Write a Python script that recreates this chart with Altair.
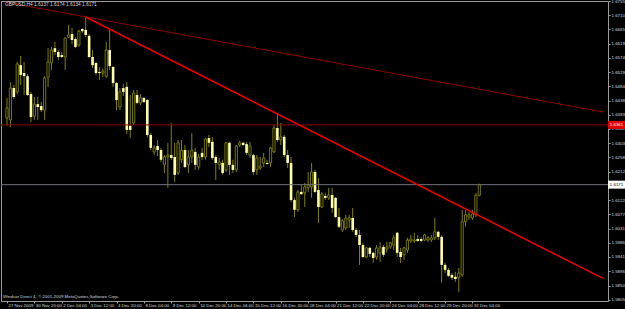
import altair as alt
import pandas as pd

# ---- data (GBPUSD H4) ----
opens = [1.6383, 1.6377, 1.6478, 1.6466, 1.6551, 1.6526, 1.6516, 1.6459, 1.6389, 1.6427,
         1.6421, 1.6408, 1.6513, 1.6558, 1.6605, 1.6593, 1.6583, 1.6577, 1.6640, 1.6650,
         1.6634, 1.6615, 1.6666, 1.6663, 1.6644, 1.6577, 1.6558, 1.6529, 1.6526, 1.6516,
         1.6599, 1.6545, 1.6494, 1.6418, 1.6478, 1.6482, 1.6358, 1.6367, 1.6456, 1.6431,
         1.6447, 1.6440, 1.6329, 1.6275, 1.6294, 1.6281, 1.6234, 1.6259, 1.6265, 1.6259,
         1.6208, 1.6250, 1.6281, 1.6234, 1.6259, 1.6275, 1.6227, 1.6272, 1.6259, 1.6319,
         1.6307, 1.6259, 1.6234, 1.6240, 1.6218, 1.6304, 1.6234, 1.6218, 1.6297, 1.6304,
         1.6300, 1.6265, 1.6265, 1.6218, 1.6224, 1.6240, 1.6240, 1.6240, 1.6275, 1.6351,
         1.6313, 1.6323, 1.6265, 1.6240, 1.6122, 1.6091, 1.6148, 1.6145, 1.6161, 1.6164,
         1.6211, 1.6154, 1.6100, 1.6135, 1.6129, 1.6138, 1.6129, 1.6068, 1.6027, 1.6033,
         1.6059, 1.6065, 1.6027, 1.6011, 1.5979, 1.5941, 1.5970, 1.5954, 1.5941, 1.5954,
         1.5973, 1.5967, 1.5973, 1.5979, 1.6018, 1.5957, 1.5948, 1.5963, 1.5992, 1.5992,
         1.5998, 1.5998, 1.5995, 1.5995, 1.5995, 1.6002, 1.6021, 1.6005, 1.5916, 1.5900,
         1.5884, 1.5878, 1.5875, 1.5884, 1.6053, 1.6068, 1.6065, 1.6075, 1.6137]
highs = [1.6447, 1.6497, 1.6488, 1.6561, 1.6580, 1.6561, 1.6523, 1.6466, 1.6450, 1.6450,
         1.6434, 1.6516, 1.6605, 1.6609, 1.6625, 1.6599, 1.6593, 1.6640, 1.6679, 1.6669,
         1.6640, 1.6663, 1.6669, 1.6704, 1.6650, 1.6599, 1.6561, 1.6545, 1.6539, 1.6625,
         1.6663, 1.6548, 1.6497, 1.6478, 1.6491, 1.6497, 1.6456, 1.6472, 1.6472, 1.6459,
         1.6450, 1.6443, 1.6335, 1.6297, 1.6313, 1.6288, 1.6265, 1.6304, 1.6367, 1.6304,
         1.6313, 1.6313, 1.6297, 1.6281, 1.6335, 1.6288, 1.6269, 1.6288, 1.6319, 1.6329,
         1.6323, 1.6265, 1.6256, 1.6250, 1.6307, 1.6307, 1.6250, 1.6297, 1.6310, 1.6307,
         1.6307, 1.6307, 1.6269, 1.6265, 1.6259, 1.6272, 1.6250, 1.6291, 1.6361, 1.6399,
         1.6367, 1.6329, 1.6281, 1.6259, 1.6129, 1.6154, 1.6170, 1.6176, 1.6211, 1.6240,
         1.6218, 1.6192, 1.6148, 1.6145, 1.6161, 1.6161, 1.6132, 1.6097, 1.6062, 1.6075,
         1.6075, 1.6097, 1.6033, 1.6027, 1.5986, 1.5973, 1.5973, 1.5957, 1.5979, 1.5989,
         1.5979, 1.5989, 1.5989, 1.6011, 1.6021, 1.5970, 1.5973, 1.6002, 1.6011, 1.6018,
         1.6011, 1.6005, 1.6014, 1.6008, 1.6011, 1.6065, 1.6024, 1.6011, 1.5922, 1.5906,
         1.5890, 1.5894, 1.5906, 1.6091, 1.6091, 1.6084, 1.6091, 1.6145, 1.6174]
lows = [1.6358, 1.6354, 1.6443, 1.6459, 1.6488, 1.6456, 1.6453, 1.6370, 1.6377, 1.6377,
        1.6402, 1.6377, 1.6482, 1.6536, 1.6583, 1.6567, 1.6574, 1.6536, 1.6637, 1.6618,
        1.6605, 1.6609, 1.6653, 1.6640, 1.6574, 1.6542, 1.6520, 1.6504, 1.6513, 1.6510,
        1.6536, 1.6482, 1.6408, 1.6408, 1.6453, 1.6332, 1.6319, 1.6361, 1.6427, 1.6424,
        1.6431, 1.6323, 1.6281, 1.6265, 1.6262, 1.6243, 1.6208, 1.6161, 1.6250, 1.6180,
        1.6202, 1.6240, 1.6224, 1.6208, 1.6240, 1.6218, 1.6218, 1.6250, 1.6250, 1.6291,
        1.6250, 1.6186, 1.6218, 1.6202, 1.6211, 1.6202, 1.6208, 1.6211, 1.6291, 1.6294,
        1.6265, 1.6256, 1.6202, 1.6202, 1.6218, 1.6227, 1.6234, 1.6227, 1.6272, 1.6307,
        1.6297, 1.6259, 1.6224, 1.6116, 1.6068, 1.6084, 1.6138, 1.6100, 1.6148, 1.6129,
        1.6145, 1.6049, 1.6097, 1.6122, 1.6122, 1.6081, 1.6065, 1.6033, 1.6021, 1.6027,
        1.6033, 1.6021, 1.6005, 1.5916, 1.5938, 1.5938, 1.5941, 1.5922, 1.5932, 1.5925,
        1.5941, 1.5954, 1.5967, 1.5963, 1.5941, 1.5922, 1.5932, 1.5954, 1.5986, 1.5986,
        1.5989, 1.5989, 1.5992, 1.5989, 1.5989, 1.5995, 1.5995, 1.5859, 1.5890, 1.5878,
        1.5868, 1.5862, 1.5830, 1.5878, 1.6037, 1.6059, 1.6059, 1.6068, 1.6134]
closes = [1.6415, 1.6478, 1.6450, 1.6555, 1.6520, 1.6516, 1.6456, 1.6386, 1.6427, 1.6418,
          1.6408, 1.6510, 1.6561, 1.6599, 1.6593, 1.6577, 1.6577, 1.6637, 1.6647, 1.6631,
          1.6609, 1.6659, 1.6659, 1.6647, 1.6577, 1.6551, 1.6526, 1.6526, 1.6532, 1.6599,
          1.6548, 1.6494, 1.6440, 1.6466, 1.6466, 1.6345, 1.6345, 1.6462, 1.6431, 1.6447,
          1.6434, 1.6329, 1.6288, 1.6288, 1.6281, 1.6250, 1.6259, 1.6265, 1.6256, 1.6202,
          1.6304, 1.6281, 1.6227, 1.6259, 1.6281, 1.6234, 1.6259, 1.6259, 1.6316, 1.6304,
          1.6256, 1.6240, 1.6243, 1.6208, 1.6304, 1.6234, 1.6218, 1.6294, 1.6304, 1.6297,
          1.6272, 1.6294, 1.6211, 1.6256, 1.6230, 1.6256, 1.6237, 1.6288, 1.6351, 1.6313,
          1.6323, 1.6265, 1.6240, 1.6122, 1.6091, 1.6148, 1.6141, 1.6164, 1.6170, 1.6211,
          1.6148, 1.6100, 1.6141, 1.6129, 1.6138, 1.6097, 1.6068, 1.6037, 1.6056, 1.6065,
          1.6065, 1.6027, 1.6011, 1.5979, 1.5941, 1.5970, 1.5951, 1.5938, 1.5970, 1.5970,
          1.5948, 1.5973, 1.5986, 1.6002, 1.5954, 1.5941, 1.5970, 1.5995, 1.5998, 1.5995,
          1.5992, 1.5992, 1.6011, 1.6002, 1.6002, 1.6021, 1.6005, 1.5916, 1.5900, 1.5881,
          1.5875, 1.5871, 1.5890, 1.6053, 1.6075, 1.6075, 1.6078, 1.6137, 1.6171]
slots = list(range(len(closes)))

xtick_slots = [0, 8, 16, 24, 32, 40, 48, 56, 64, 72, 80, 88, 96, 104, 112, 120, 128, 136]
xtick_labels = ["27 Nov 2009", "30 Nov 20:00", "2 Dec 04:00", "3 Dec 12:00", "4 Dec 20:00",
                "8 Dec 04:00", "9 Dec 12:00", "10 Dec 20:00", "14 Dec 04:00", "15 Dec 12:00",
                "16 Dec 20:00", "18 Dec 04:00", "21 Dec 12:00", "22 Dec 20:00", "24 Dec 04:00",
                "28 Dec 12:00", "29 Dec 20:00", "31 Dec 04:00"]
ytick_values = [1.6755, 1.6710, 1.6665, 1.6619, 1.6574, 1.6529, 1.6484, 1.6438, 1.6393,
                1.6348, 1.6303, 1.6258, 1.6212, 1.6122, 1.6077, 1.6031, 1.5986, 1.5941,
                1.5896, 1.5850, 1.5805]

hline_price = 1.6361
trend_dark_x = [-0.29, 174.14]
trend_dark_y = [1.6751, 1.6402]
trend_red_x = [23, 174.14]
trend_red_y = [1.6704, 1.5873]

symbol_title = "GBPUSD,H4"
copyright_text = "Windsor Direct 4, \u00a9 2001-2009 MetaQuotes Software Corp."

# ---- styles ----
OLIVE = "#808000"
PALE = "#FFFFA8"
AXIS_GRAY = "#9a9a9a"
TEXT = "#d8d8d8"
FONT = "Liberation Sans"
FS = 4.4

x_domain = [-0.29, 174.14]
y_domain = [1.5801, 1.6755]

df = pd.DataFrame({"slot": slots, "open": opens, "high": highs, "low": lows, "close": closes})

xscale = alt.Scale(domain=x_domain, nice=False, zero=False)
yscale = alt.Scale(domain=y_domain, nice=False, zero=False)

label_expr = "[" + ",".join("'%s'" % s for s in xtick_labels) + "][indexof([" + \
    ",".join(str(v) for v in xtick_slots) + "], datum.value)]"

# identical axis definitions are used in every layer so they merge into one
xaxis = alt.Axis(values=xtick_slots, labelExpr=label_expr, title=None)
yaxis = alt.Axis(orient="right", values=ytick_values, format=".4f", title=None)

def X(field):
    return alt.X(field, scale=xscale, axis=xaxis)

def Y(field):
    return alt.Y(field, scale=yscale, axis=yaxis)

base = alt.Chart(df)

wicks = base.mark_rule(color=OLIVE, strokeWidth=1).encode(
    x=X("slot:Q"), y=Y("low:Q"), y2="high:Q")
bear = base.transform_filter("datum.close < datum.open").mark_bar(
    size=2.6, color=PALE).encode(x=X("slot:Q"), y=Y("open:Q"), y2="close:Q")
bull = base.transform_filter("datum.close >= datum.open").mark_bar(
    size=2.2, fill="#000000", stroke=OLIVE, strokeWidth=0.9).encode(
    x=X("slot:Q"), y=Y("open:Q"), y2="close:Q")

def line_layer(xs, ys, color, width):
    d = pd.DataFrame({"x": xs, "y": ys})
    return alt.Chart(d).mark_line(color=color, strokeWidth=width).encode(
        x=X("x:Q"), y=Y("y:Q"))

dark_line = line_layer(trend_dark_x, trend_dark_y, "#8B0000", 1)
red_line = line_layer(trend_red_x, trend_red_y, "#F00000", 1.5)

hdf = pd.DataFrame({"p": [hline_price]})
hline = alt.Chart(hdf).mark_rule(color="#8B0000", strokeWidth=1).encode(y=Y("p:Q"))

bdf = pd.DataFrame({"p": [closes[-1]]})
bidline = alt.Chart(bdf).mark_rule(color="#70707a", strokeWidth=1).encode(y=Y("p:Q"))

BOX = "M-1,-0.47L1,-0.47L1,0.47L-1,0.47Z"

def price_box(price, fill, txt_color):
    d = pd.DataFrame({"p": [price], "t": ["%.4f" % price]})
    box = alt.Chart(d).mark_point(shape=BOX, filled=True, size=289, fill=fill,
                                  opacity=1, strokeWidth=0).encode(
        x=alt.value(615.5), y=Y("p:Q"))
    txt = alt.Chart(d).mark_text(font=FONT, fontSize=FS, color=txt_color,
                                 align="center", baseline="middle").encode(
        x=alt.value(615.5), y=Y("p:Q"), text="t:N")
    return box + txt

red_box = price_box(hline_price, "#E00000", "#ffffff")
bid_box = price_box(closes[-1], "#ffffff", "#000000")

title_str = "%s  %.4f %.4f %.4f %.4f" % (symbol_title, opens[-1], highs[-1], lows[-1], closes[-1])
tdf = pd.DataFrame({"t": [title_str], "c": [copyright_text]})
title_txt = alt.Chart(tdf).mark_text(font=FONT, fontSize=FS + 0.4, color=TEXT,
                                     align="left", baseline="middle").encode(
    x=alt.value(4), y=alt.value(3.5), text="t:N")
copy_txt = alt.Chart(tdf).mark_text(font=FONT, fontSize=FS, color=TEXT,
                                    align="left", baseline="middle").encode(
    x=alt.value(2), y=alt.value(296), text="c:N")

chart = alt.layer(
    wicks, bear, bull, hline, bidline, dark_line, red_line,
    red_box, bid_box, title_txt, copy_txt,
).properties(
    width=607, height=300,
    autosize=alt.AutoSizeParams(type="none"),
    padding={"left": 1, "top": 1, "right": 17, "bottom": 8},
    background="#000000",
).configure_view(
    stroke=AXIS_GRAY, strokeWidth=1, fill="#000000"
).configure_axis(
    domain=False, grid=False, tickSize=2, tickColor=AXIS_GRAY,
    labelColor=TEXT, labelFont=FONT, labelFontSize=FS, labelOverlap=False,
).configure_axisX(
    labelAlign="left", labelBaseline="top", labelPadding=0, labelOffset=1,
).configure_axisY(
    labelPadding=1,
)

chart.save("out.html", embed_options={"renderer": "svg", "actions": False})
